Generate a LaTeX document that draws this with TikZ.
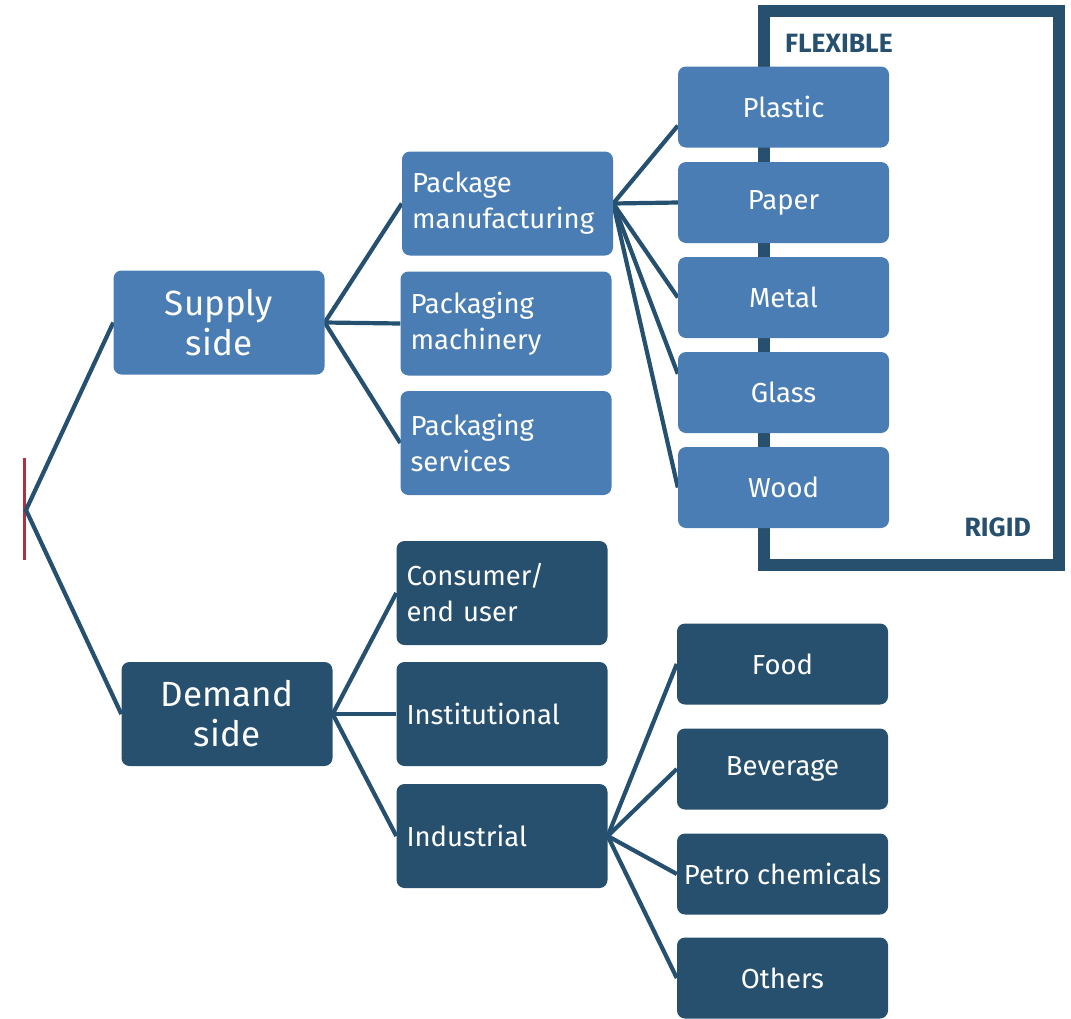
\documentclass[tikz,border=0pt]{standalone}
\usepackage{fontspec}
\setmainfont{Fira Sans}
\usetikzlibrary{calc,backgrounds}
\definecolor{lightbox}{HTML}{4A7DB3}
\definecolor{darkbox}{HTML}{27506F}
\definecolor{linecol}{HTML}{25506F}
\definecolor{redmark}{HTML}{B03040}
\begin{document}
\begin{tikzpicture}[x=1pt,y=-1pt,
  box/.style={rounded corners=8pt, inner sep=0pt, minimum width=211pt, minimum height=104pt, text=white, font=\fontsize{27.5}{36}\selectfont, align=center},
  lbox/.style={box, fill=lightbox},
  dbox/.style={box, fill=darkbox},
  leftbox/.style={text width=191pt, align=left, inner xsep=10pt},
  small/.style={minimum height=81pt},
  big/.style={font=\fontsize{35}{40}\selectfont},
  conn/.style={draw=linecol, line width=4.2pt},
  framelabel/.style={text=darkbox, font=\bfseries\fontsize{26.5}{30}\selectfont, inner sep=0pt}
]
\useasboundingbox (0,0) rectangle (1071,1018);
% frame
\draw[darkbox, line width=12pt] (764,11) rectangle (1059,565);
\node[framelabel, anchor=west] (flex) at (785,43) {FLEXIBLE};
\node[framelabel, anchor=east] (rigid) at (1031,527) {RIGID};
% nodes
\node[lbox, big] (supply) at (219,322.5) {Supply\\side};
\node[dbox, big] (demand) at (227,714) {Demand\\side};
\node[lbox, leftbox] (pm) at (507.5,203.5) {Package\\manufacturing};
\node[lbox, leftbox] (pmach) at (506,323.5) {Packaging\\machinery};
\node[lbox, leftbox] (pserv) at (506,443) {Packaging\\services};
\node[dbox, leftbox] (cons) at (502,593) {Consumer/\\end user};
\node[dbox, leftbox] (inst) at (502,714) {Institutional};
\node[dbox, leftbox] (indu) at (502,836) {Industrial};
\node[lbox, small] (plastic) at (783.5,107) {Plastic};
\node[lbox, small] (paper) at (783.5,202.5) {Paper};
\node[lbox, small] (metal) at (783.5,297.5) {Metal};
\node[lbox, small] (glass) at (783.5,392.5) {Glass};
\node[lbox, small] (wood) at (783.5,487.5) {Wood};
\node[dbox, small] (food) at (782.5,664) {Food};
\node[dbox, small] (bev) at (782.5,769) {Beverage};
\node[dbox, small] (petro) at (782.5,874) {Petro chemicals};
\node[dbox, small] (others) at (782.5,978) {Others};
\coordinate (root) at (26,510);
\begin{scope}[on background layer]
\draw[redmark, line width=3pt] (24,458) -- (24,560);
\draw[conn] (supply.west) -- (root) -- (demand.west);
\draw[conn] (pm.west) -- (supply.east) -- (pserv.west);
\draw[conn] (supply.east) -- (pmach.west);
\draw[conn] (cons.west) -- (demand.east) -- (indu.west);
\draw[conn] (demand.east) -- (inst.west);
\draw[conn] (pm.east) -- (plastic.190);
\draw[conn] (pm.east) -- (paper.west);
\draw[conn] (pm.east) -- (metal.west);
\draw[conn] (pm.east) -- (glass.170);
\draw[conn] (pm.east) -- (wood.west);
\draw[conn] (indu.east) -- (food.west);
\draw[conn] (indu.east) -- (bev.west);
\draw[conn] (indu.east) -- (petro.west);
\draw[conn] (indu.east) -- (others.west);
\end{scope}
\end{tikzpicture}
\end{document}
